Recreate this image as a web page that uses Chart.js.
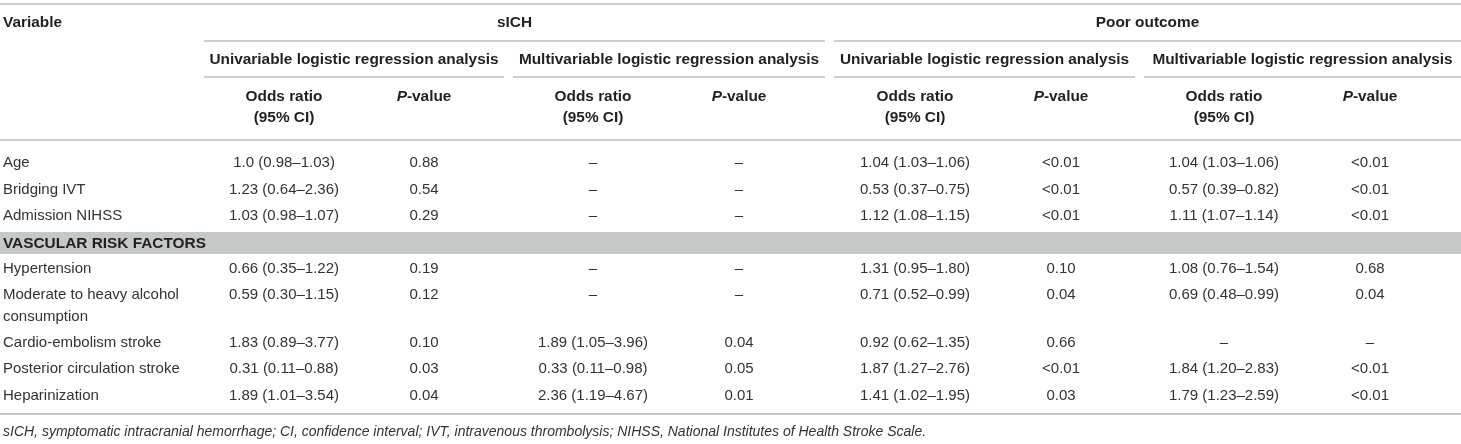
<!DOCTYPE html>
<html>
<head>
<meta charset="utf-8">
<script src="https://cdn.jsdelivr.net/npm/chart.js@4/dist/chart.umd.min.js"></script>
<style>
  html, body { margin: 0; padding: 0; background: #fff; }
  #wrap { width: 1461px; height: 444px; }
</style>
</head>
<body>
<div id="wrap"><canvas id="tbl" width="1461" height="444"></canvas></div>
<script>
// ===============================================================
// TABLE DATA
// ===============================================================
const outcomes = ['sICH', 'Poor outcome'];
const analyses = [
    'Univariable logistic regression analysis',
    'Multivariable logistic regression analysis',
    'Univariable logistic regression analysis',
    'Multivariable logistic regression analysis'
];
const variables = [
    'Age', 'Bridging IVT', 'Admission NIHSS', 'Hypertension',
    'Moderate to heavy alcohol consumption', 'Cardio-embolism stroke',
    'Posterior circulation stroke', 'Heparinization'
];
const sectionLabel = 'VASCULAR RISK FACTORS';
const sectionBefore = 3; // section band sits before this variable

const sichUniOR = ['1.0 (0.98–1.03)', '1.23 (0.64–2.36)', '1.03 (0.98–1.07)', '0.66 (0.35–1.22)', '0.59 (0.30–1.15)', '1.83 (0.89–3.77)', '0.31 (0.11–0.88)', '1.89 (1.01–3.54)'];
const sichUniP = ['0.88', '0.54', '0.29', '0.19', '0.12', '0.10', '0.03', '0.04'];
const sichMultiOR = ['–', '–', '–', '–', '–', '1.89 (1.05–3.96)', '0.33 (0.11–0.98)', '2.36 (1.19–4.67)'];
const sichMultiP = ['–', '–', '–', '–', '–', '0.04', '0.05', '0.01'];
const poorUniOR = ['1.04 (1.03–1.06)', '0.53 (0.37–0.75)', '1.12 (1.08–1.15)', '1.31 (0.95–1.80)', '0.71 (0.52–0.99)', '0.92 (0.62–1.35)', '1.87 (1.27–2.76)', '1.41 (1.02–1.95)'];
const poorUniP = ['<0.01', '<0.01', '<0.01', '0.10', '0.04', '0.66', '<0.01', '0.03'];
const poorMultiOR = ['1.04 (1.03–1.06)', '0.57 (0.39–0.82)', '1.11 (1.07–1.14)', '1.08 (0.76–1.54)', '0.69 (0.48–0.99)', '–', '1.84 (1.20–2.83)', '1.79 (1.23–2.59)'];
const poorMultiP = ['<0.01', '<0.01', '<0.01', '0.68', '0.04', '–', '<0.01', '<0.01'];

const footnote = 'sICH, symptomatic intracranial hemorrhage; CI, confidence interval; IVT, intravenous thrombolysis; NIHSS, National Institutes of Health Stroke Scale.';

// ===============================================================
// LAYOUT (in scale units, which map 1:1 onto the canvas)
// ===============================================================
const columns = [sichUniOR, sichUniP, sichMultiOR, sichMultiP, poorUniOR, poorUniP, poorMultiOR, poorMultiP];
const colX = [284, 424, 593, 739, 915, 1061, 1224, 1370];
const outcomeSpans = [[204, 825], [834, 1461]];
const analysisSpans = [[204, 504], [513, 825], [834, 1135], [1144, 1461]];
const wrapAt = { 4: ['Moderate to heavy alcohol', 'consumption'] };

const LEFT = 3;
const ROW_START = 163, ROW_H = 26.4, LINE_H = 21.5;
const BAND_H = 22;

const FONT = '"Liberation Sans", Arial, Helvetica, sans-serif';
const INK = '#231f20';
const BODY_INK = '#333333';
const RULE = '#bdbdbd';
const BAND = '#c6c7c9';

const tablePlugin = {
    id: 'tableDraw',
    afterDraw(chart) {
        const ctx = chart.ctx;
        const xs = chart.scales.x, ys = chart.scales.y;
        const px = v => xs.getPixelForValue(v);
        const py = v => ys.getPixelForValue(v);

        ctx.save();
        ctx.textBaseline = 'middle';

        function rule(x0, x1, y) {
            ctx.strokeStyle = RULE;
            ctx.lineWidth = 1.6;
            ctx.beginPath();
            ctx.moveTo(px(x0), py(y));
            ctx.lineTo(px(x1), py(y));
            ctx.stroke();
        }
        function text(str, x, y, align, font, color) {
            ctx.font = font;
            ctx.fillStyle = color;
            ctx.textAlign = align;
            ctx.fillText(str, px(x), py(y));
        }
        // "P-value" with italic P, centred
        function pValue(x, y) {
            const f1 = 'italic bold 15.4px ' + FONT, f2 = 'bold 15.4px ' + FONT;
            ctx.font = f1; const w1 = ctx.measureText('P').width;
            ctx.font = f2; const w2 = ctx.measureText('-value').width;
            const start = px(x) - (w1 + w2) / 2;
            ctx.fillStyle = INK;
            ctx.textAlign = 'left';
            ctx.font = f1; ctx.fillText('P', start, py(y));
            ctx.font = f2; ctx.fillText('-value', start + w1, py(y));
        }

        const head = 'bold 15.4px ' + FONT;
        const body = '15px ' + FONT;

        // --- header ---
        rule(0, 1461, 4);
        text('Variable', LEFT, 23, 'left', head, INK);
        outcomes.forEach((o, i) => {
            const s = outcomeSpans[i];
            text(o, (s[0] + s[1]) / 2, 23, 'center', head, INK);
            rule(s[0], s[1], 41);
        });
        analyses.forEach((a, i) => {
            const s = analysisSpans[i];
            text(a, (s[0] + s[1]) / 2, 60, 'center', head, INK);
            rule(s[0], s[1], 77);
        });
        colX.forEach((cx, i) => {
            if (i % 2 === 0) {
                text('Odds ratio', cx, 97, 'center', head, INK);
                text('(95% CI)', cx, 118, 'center', head, INK);
            } else {
                pValue(cx, 97);
            }
        });
        rule(0, 1461, 140);

        // --- body ---
        let y = ROW_START;
        variables.forEach((v, r) => {
            if (r === sectionBefore) {
                const top = y - ROW_H / 2 + 3;
                ctx.fillStyle = BAND;
                ctx.fillRect(px(0), py(top), px(1461) - px(0), py(top + BAND_H) - py(top));
                text(sectionLabel, LEFT, top + BAND_H / 2 + 0.5, 'left', head, INK);
                y += ROW_H;
            }
            const lines = wrapAt[r] || [v];
            lines.forEach((ln, k) => text(ln, LEFT, y + k * LINE_H, 'left', body, BODY_INK));
            columns.forEach((col, c) => text(col[r], colX[c], y, 'center', body, BODY_INK));
            y += ROW_H + (lines.length - 1) * LINE_H;
        });
        const bottom = y - ROW_H / 2 + 5;
        rule(0, 1461, bottom);

        // --- footnote ---
        text(footnote, LEFT, bottom + 18, 'left', 'italic 14px ' + FONT, BODY_INK);
        ctx.restore();
    }
};

new Chart(document.getElementById('tbl'), {
    type: 'scatter',
    data: { datasets: [{ data: [], pointRadius: 0 }] },
    options: {
        responsive: false,
        animation: false,
        devicePixelRatio: 1,
        layout: { padding: 0 },
        plugins: { legend: { display: false }, tooltip: { enabled: false } },
        scales: {
            x: { type: 'linear', min: 0, max: 1461, display: false },
            y: { type: 'linear', min: 0, max: 444, reverse: true, display: false }
        }
    },
    plugins: [tablePlugin]
});
</script>
</body>
</html>
